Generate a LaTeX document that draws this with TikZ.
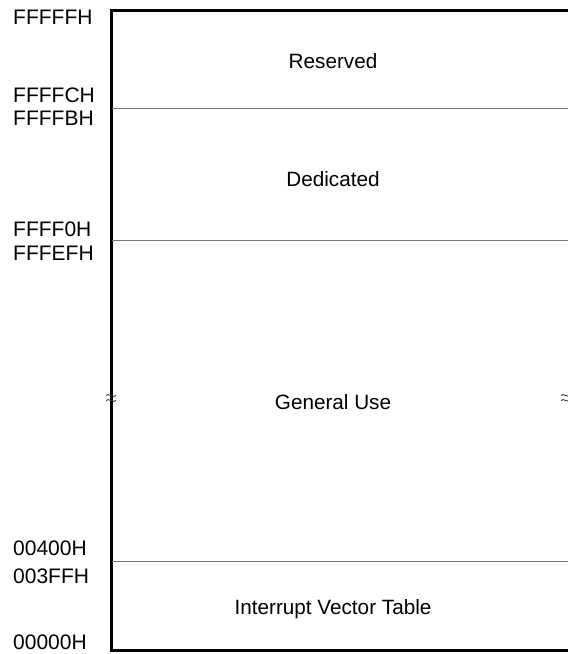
\documentclass[tikz,border=0pt]{standalone}
\usepackage{fontspec}
\setmainfont{Liberation Sans}
\begin{document}
\begin{tikzpicture}[x=1pt,y=-1pt,
  addr/.style={anchor=base west,inner sep=0pt,font=\fontsize{21}{24}\selectfont},
  region/.style={anchor=base,inner sep=0pt,font=\fontsize{20.7}{24}\selectfont},
  frame/.style={line width=3pt,black},
  divider/.style={line width=1pt,black!55},
  brk/.style={line width=0.9pt,black!80}]
\useasboundingbox (0,0) rectangle (568,654);
% frame corners
\coordinate (tl) at (111,10);
\coordinate (tr) at (568,10);
\coordinate (bl) at (111,650);
\coordinate (br) at (568,650);
\draw[frame,line cap=rect] (tr) -- (tl) -- (bl) -- (br);
% dividers
\coordinate (d1l) at (112,108); \coordinate (d1r) at (568,108);
\coordinate (d2l) at (112,240); \coordinate (d2r) at (568,240);
\coordinate (d3l) at (112,561); \coordinate (d3r) at (568,561);
\draw[divider] (d1l) -- (d1r);
\draw[divider] (d2l) -- (d2r);
\draw[divider] (d3l) -- (d3r);
% break marks
\coordinate (bkl) at (111,398);
\coordinate (bkr) at (566,398);
\foreach \p in {bkl,bkr}{
  \draw[brk] ([xshift=-5pt,yshift=-2.5pt]\p) .. controls +(2,-3) and +(-2,3) .. ([xshift=5pt,yshift=-2.5pt]\p);
  \draw[brk] ([xshift=-5pt,yshift=2.5pt]\p) .. controls +(2,-3) and +(-2,3) .. ([xshift=5pt,yshift=2.5pt]\p);
}
% address labels
\node[addr] (a1) at (13,24) {FFFFFH};
\node[addr] (a2) at (13,102) {FFFFCH};
\node[addr] (a3) at (13,125) {FFFFBH};
\node[addr] (a4) at (13,236) {FFFF0H};
\node[addr] (a5) at (13,260) {FFFEFH};
\node[addr] (a6) at (13,555) {00400H};
\node[addr] (a7) at (13,583) {003FFH};
\node[addr] (a8) at (13,649) {00000H};
% region labels
\node[region] (r1) at (333,68) {Reserved};
\node[region] (r2) at (333,186) {Dedicated};
\node[region] (r3) at (333,409) {General Use};
\node[region] (r4) at (333,614) {Interrupt Vector Table};
\end{tikzpicture}
\end{document}
